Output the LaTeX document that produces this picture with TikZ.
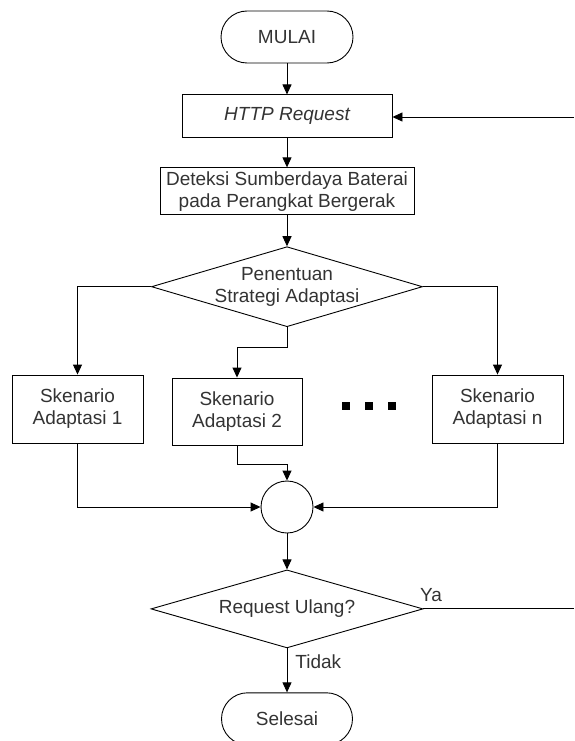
\documentclass[tikz,border=0pt]{standalone}
\usepackage{fontspec}
\setmainfont{Liberation Sans}
\usetikzlibrary{shapes.geometric, arrows.meta, positioning}

\begin{document}
\begin{tikzpicture}[
    x=1pt, y=-1pt,
    node distance=30pt,
    every node/.style={font=\fontsize{19}{22}\selectfont, text=black!80},
    term/.style={rectangle, rounded corners=26pt, draw=black, line width=0.9pt, minimum width=132pt, minimum height=52pt, align=center},
    proc/.style={rectangle, draw=black, line width=0.9pt, minimum width=210pt, minimum height=43pt, align=center},
    wproc/.style={rectangle, draw=black, line width=0.9pt, minimum width=254pt, minimum height=47pt, inner sep=1pt, align=center},
    scen/.style={rectangle, draw=black, line width=0.9pt, minimum width=131pt, minimum height=68pt, align=center},
    dec/.style={diamond, aspect=3.4, draw=black, line width=0.9pt, inner sep=0pt, inner xsep=-4pt, minimum width=271pt, minimum height=80pt, align=center},
    joint/.style={circle, draw=black, line width=0.9pt, minimum size=52pt, inner sep=0pt},
    dot/.style={rectangle, fill=black, minimum size=8pt, inner sep=0pt},
    lbl/.style={inner sep=2pt},
    arrow/.style={-{Triangle[length=10pt,width=9pt]}, line width=0.9pt},
    line/.style={line width=0.9pt}
]
\useasboundingbox (0,0) rectangle (574,741);

% alur utama
\node[term] (mulai) at (287,37) {MULAI};
\node[proc, below=31pt of mulai] (http) {\itshape HTTP Request};
\node[wproc, below=29pt of http] (deteksi) {Deteksi Sumberdaya Baterai\\pada Perangkat Bergerak};
\node[dec, below=31pt of deteksi] (strategi) {Penentuan\\Strategi Adaptasi};

% skenario adaptasi
\node[scen] (sk1) at (77.5,409) {Skenario\\Adaptasi 1};
\node[scen, minimum width=130pt, minimum height=67pt] (sk2) at (237,411.5) {Skenario\\Adaptasi 2};
\node[scen] (skn) at (497.5,409) {Skenario\\Adaptasi n};
\foreach \x [count=\i] in {346,369,392}
    \node[dot] (titik\i) at (\x,406) {};

\node[joint] (gabung) at (287,507) {};
\node[dec, minimum width=272pt, minimum height=78pt, below=36pt of gabung] (ulang) {Request Ulang?};
\node[term, minimum width=131pt, below=44pt of ulang] (selesai) {Selesai};

\coordinate (balik) at (574,117);
\coordinate (yakeluar) at (574,608);

\draw[arrow] (mulai) -- (http);
\draw[arrow] (balik) -- (balik -| http.east);
\draw[arrow] (http) -- (deteksi);
\draw[arrow] (deteksi) -- (strategi);
\draw[arrow] (strategi.west) -| (sk1);
\draw[arrow] (strategi.east) -| (skn);
\draw[arrow] (strategi.south) -- ++(0,20) -| (sk2);
\draw[arrow] (sk1) |- (gabung);
\draw[arrow] (skn) |- (gabung);
\draw[arrow] (sk2.south) -- ++(0,19) -| (gabung);
\draw[arrow] (gabung) -- (ulang);
\draw[arrow] (ulang) -- node[lbl, right, pos=0.3, xshift=6pt] {Tidak} (selesai);
\draw[line] (ulang.east) -- node[lbl, above, pos=0.05, yshift=5pt] {Ya} (ulang.east -| yakeluar);

\end{tikzpicture}
\end{document}
